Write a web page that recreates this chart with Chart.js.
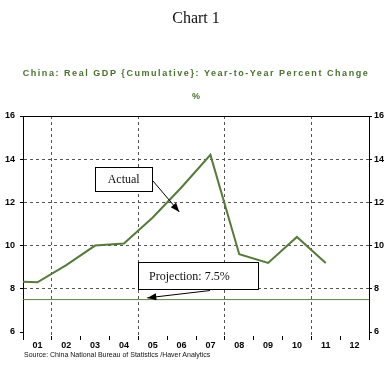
<!DOCTYPE html>
<html><head><meta charset="utf-8">
<script src="https://cdn.jsdelivr.net/npm/chart.js@4"></script>
<style>
html,body{margin:0;padding:0;background:#fff;}
#wrap{position:relative;width:392px;height:375px;overflow:hidden;background:#fff;}
canvas{position:absolute;left:0;top:0;}
.t{position:absolute;left:0;width:392px;text-align:center;white-space:nowrap;}
</style></head><body>
<div id="wrap">
<canvas id="c" width="392" height="375"></canvas>
<div class="t" style="top:9px;font:16px 'Liberation Serif','Times New Roman',serif;color:#111;">Chart 1</div>
<div class="t" style="top:68px;font:bold 9px 'Liberation Sans',Arial,sans-serif;letter-spacing:1.55px;color:#4a7030;">China: Real GDP {Cumulative}: Year-to-Year Percent Change</div>
<div class="t" style="top:91px;font:bold 9px 'Liberation Sans',Arial,sans-serif;color:#4a7030;">%</div>
<div style="position:absolute;left:24px;top:351px;white-space:nowrap;font:7px 'Liberation Sans',Arial,sans-serif;color:#111;">Source: China National Bureau of Statistics /Haver Analytics</div>
</div>
<script>
// Data
const yearLabels = ['01','02','03','04','05','06','07','08','09','10','11','12'];
const gdpYears = [2000,2001,2002,2003,2004,2005,2006,2007,2008,2009,2010,2011];
const gdpValues = [8.35,8.3,9.1,10.0,10.1,11.3,12.7,14.2,9.6,9.2,10.4,9.2];
const projectionValue = 7.5;
const yTickValues = [6,8,10,12,14,16];
const gridYears = [1.5,4.5,7.5,10.5];

const X_MIN = 0.5, X_MAX = 12.5, Y_MIN = 5.815, Y_MAX = 16;
const GREEN = '#567a3c';

const annotations = [
  {box:[3.0,13.64,4.98,12.53], text:'Actual', align:'center', arrow:[5.01,12.99,5.92,11.56]},
  {box:[4.49,9.24,8.66,7.99], text:'Projection: 7.5%', align:'left', arrow:[6.99,7.92,4.81,7.58]}
];

const gdpData = gdpYears.map((yr,i)=>({x: yr-2000, y: gdpValues[i]}));
const projData = [{x:X_MIN,y:projectionValue},{x:X_MAX,y:projectionValue}];

function arrowHead(ctx,x1,y1,x2,y2){
  const a = Math.atan2(y2-y1,x2-x1), L = 9, W = 3.5;
  ctx.beginPath();
  ctx.moveTo(x2,y2);
  ctx.lineTo(x2 - L*Math.cos(a) + W*Math.sin(a), y2 - L*Math.sin(a) - W*Math.cos(a));
  ctx.lineTo(x2 - L*Math.cos(a) - W*Math.sin(a), y2 - L*Math.sin(a) + W*Math.cos(a));
  ctx.closePath(); ctx.fill();
}

const framePlugin = {
  id:'frame',
  afterDatasetsDraw(chart){
    const ctx = chart.ctx, ca = chart.chartArea, sx = chart.scales.x, sy = chart.scales.y;
    ctx.save();
    ctx.strokeStyle = '#000'; ctx.lineWidth = 1;
    ctx.beginPath(); ctx.moveTo(ca.left, Math.round(ca.top)+0.5); ctx.lineTo(ca.right, Math.round(ca.top)+0.5); ctx.stroke();
    annotations.forEach(a=>{
      const x0 = sx.getPixelForValue(a.box[0]), y0 = sy.getPixelForValue(a.box[1]);
      const x1 = sx.getPixelForValue(a.box[2]), y1 = sy.getPixelForValue(a.box[3]);
      const ax1 = sx.getPixelForValue(a.arrow[0]), ay1 = sy.getPixelForValue(a.arrow[1]);
      const ax2 = sx.getPixelForValue(a.arrow[2]), ay2 = sy.getPixelForValue(a.arrow[3]);
      ctx.fillStyle = '#fff';
      ctx.fillRect(x0,y0,x1-x0,y1-y0);
      ctx.strokeStyle = '#000'; ctx.lineWidth = 1;
      ctx.strokeRect(Math.round(x0)+0.5,Math.round(y0)+0.5,Math.round(x1-x0),Math.round(y1-y0));
      ctx.fillStyle = '#111';
      ctx.font = "12px 'Liberation Serif','Times New Roman',serif";
      ctx.textBaseline = 'middle';
      if (a.align==='center'){ ctx.textAlign='center'; ctx.fillText(a.text,(x0+x1)/2,(y0+y1)/2+1); }
      else { ctx.textAlign='left'; ctx.fillText(a.text,x0+11,(y0+y1)/2+1); }
      ctx.strokeStyle = '#000'; ctx.lineWidth = 1;
      ctx.beginPath(); ctx.moveTo(ax1,ay1); ctx.lineTo(ax2,ay2); ctx.stroke();
      ctx.fillStyle = '#000';
      arrowHead(ctx,ax1,ay1,ax2,ay2);
    });
    ctx.restore();
  }
};

const isHalf = v => Math.abs(v - Math.floor(v) - 0.5) < 1e-6;
const tickFont = {family:"'Liberation Sans',Arial,sans-serif", size:9, weight:'bold'};

new Chart(document.getElementById('c'), {
  type:'line',
  data:{datasets:[
    {data:gdpData, borderColor:GREEN, borderWidth:2, pointRadius:0, tension:0, yAxisID:'y'},
    {data:projData, borderColor:'#5e8444', borderWidth:1, pointRadius:0, tension:0, yAxisID:'y'}
  ]},
  options:{
    responsive:false, animation:false, devicePixelRatio:1,
    layout:{padding:{top:116,left:0,right:0,bottom:0}},
    plugins:{legend:{display:false}, tooltip:{enabled:false}},
    scales:{
      x:{type:'linear', min:X_MIN, max:X_MAX, position:'bottom',
        afterBuildTicks(s){ const t=[]; for(let k=0;k<=24;k++) t.push({value:X_MIN+k*0.5}); s.ticks=t; },
        afterFit(s){ s.height = 39; },
        grid:{
          color: c => (c.tick && gridYears.some(g=>Math.abs(g-c.tick.value)<1e-6)) ? '#555' : 'rgba(0,0,0,0)',
          tickColor: c => (c.tick && isHalf(c.tick.value)) ? '#000' : 'rgba(0,0,0,0)',
          tickLength:4, lineWidth:1, drawOnChartArea:true
        },
        border:{display:false, dash:[3,3]},
        ticks:{autoSkip:false, maxRotation:0, minRotation:0, padding:0, color:'#000', font:tickFont,
          callback: v => Number.isInteger(v) ? (yearLabels[v-1]||'') : ''}
      },
      y:{type:'linear', min:Y_MIN, max:Y_MAX, position:'left',
        afterBuildTicks(s){ s.ticks = yTickValues.map(v=>({value:v})); },
        afterFit(s){ s.width = 23; },
        grid:{
          color: c => (c.tick && c.tick.value>6 && c.tick.value<16) ? '#555' : 'rgba(0,0,0,0)',
          tickColor:'#000', tickLength:3, lineWidth:1
        },
        border:{display:true, color:'#000', width:1, dash:[3,3]},
        ticks:{padding:5, color:'#000', font:tickFont}
      },
      y2:{type:'linear', min:Y_MIN, max:Y_MAX, position:'right',
        afterBuildTicks(s){ s.ticks = yTickValues.map(v=>({value:v})); },
        afterFit(s){ s.width = 23; },
        grid:{drawOnChartArea:false, tickColor:'#000', tickLength:3},
        border:{display:true, color:'#000', width:1},
        ticks:{padding:2, color:'#000', font:tickFont}
      }
    }
  },
  plugins:[framePlugin]
});
</script>
</body></html>
